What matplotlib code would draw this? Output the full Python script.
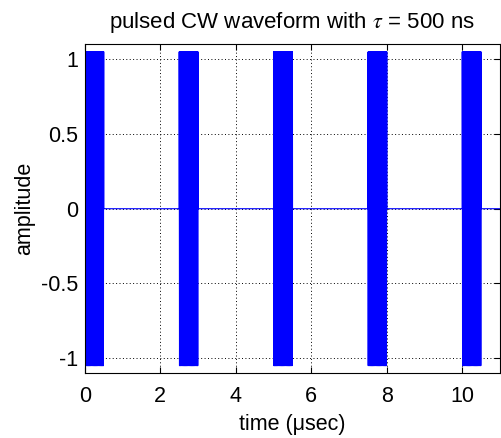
import numpy as np
import matplotlib
matplotlib.use('Agg')
from matplotlib import pyplot as plt

plt.rcParams['font.family'] = ['Liberation Sans', 'DejaVu Sans']
plt.rcParams['mathtext.fontset'] = 'stix'

# pulse train parameters (times in microseconds)
pulse_starts = [0.0, 2.5, 5.0, 7.5, 10.0]
tau = 0.5
amplitude = 1.05
carrier_mhz = 60.0

x_ticks = [0, 2, 4, 6, 8, 10]
y_ticks = [-1, -0.5, 0, 0.5, 1]
y_tick_labels = ['-1', '-0.5', '0', '0.5', '1']

t = np.linspace(0, 11, 60001)
gate = np.zeros_like(t)
for t0 in pulse_starts:
    gate[(t >= t0) & (t <= t0 + tau)] = 1.0
signal = amplitude * gate * np.cos(2 * np.pi * carrier_mhz * t)

fig = plt.figure(figsize=(5.02, 4.38), dpi=100)
ax = fig.add_axes([0.169, 0.148, 0.827, 0.751])
ax.plot(t, signal, color=(0, 0, 1), linewidth=0.8)

ax.set_xlim(0, 11)
ax.set_ylim(-1.1, 1.1)
ax.set_xticks(x_ticks)
ax.set_yticks(y_ticks)
ax.set_yticklabels(y_tick_labels)
ax.grid(True, linestyle=(0, (1, 2.5)), color='black', linewidth=0.7)
ax.tick_params(direction='in', labelsize=15.5, length=4, top=True, right=True)
ax.tick_params(axis='x', pad=9)
ax.tick_params(axis='y', pad=5)
for sp in ax.spines.values():
    sp.set_linewidth(0.8)

ax.set_title(r'pulsed CW waveform with $\tau$ = 500 ns', fontsize=16, pad=12)
ax.set_xlabel('time (μsec)', fontsize=15.5, labelpad=5)
ax.set_ylabel('amplitude', fontsize=15.5, labelpad=4)

fig.savefig('out.png', dpi=100)
